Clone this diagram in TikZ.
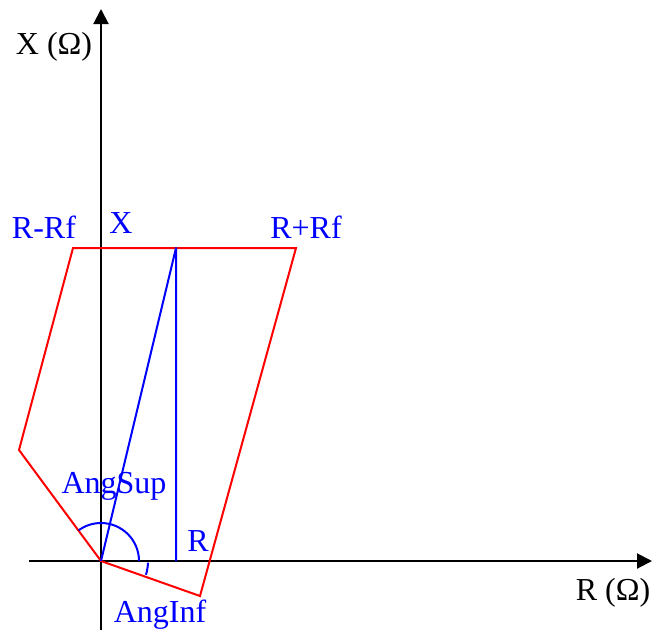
\documentclass[tikz,border=0pt]{standalone}
\usepackage{fontspec}
\setmainfont{Liberation Serif}
\usetikzlibrary{arrows.meta}
\begin{document}
\begin{tikzpicture}[x=1pt,y=-1pt,
  axis/.style={line width=2pt,black},
  axisarrow/.style={axis,-{Triangle[length=15pt,width=15pt]}},
  redline/.style={line width=2pt,red,line join=miter},
  blueline/.style={line width=2pt,blue,line join=round},
  lbl/.style={inner sep=0pt,anchor=base,font=\fontsize{32}{36}\selectfont},
  bluelbl/.style={lbl,text=blue}]
\useasboundingbox (0,0) rectangle (655,630);
\coordinate (O) at (101,561);
\coordinate (xs) at (29,561);
\coordinate (xe) at (652,561);
\coordinate (ys) at (101,630);
\coordinate (ye) at (101,9);
\coordinate (TL) at (73,248);
\coordinate (TR) at (296,248);
\coordinate (BR) at (200,596);
\coordinate (LL) at (19,450);
\coordinate (XT) at (176,248);
\coordinate (RB) at (176,561);
% axes
\draw[axisarrow] (xs) -- (xe);
\draw[axisarrow] (ys) -- (ye);
% red polygon
\draw[redline] (TL) -- (TR) -- (BR) -- (O) -- (LL) -- cycle;
% blue lines
\draw[blueline] (O) -- (XT) -- (RB);
\draw[blueline] ([shift={(0:38)}]O) arc[start angle=0,end angle=-126,radius=38];
\draw[blueline] ([shift={(2:47)}]O) arc[start angle=2,end angle=17,radius=47];
% labels
\node[lbl] (xlab) at (54,54) {X (Ω)};
\node[lbl] (rlab) at (613,600) {R (Ω)};
\node[bluelbl] (rmrf) at (44,238) {R-Rf};
\node[bluelbl] (xl) at (121,233) {X};
\node[bluelbl] (rprf) at (306,238) {R+Rf};
\node[bluelbl] (angsup) at (114,493) {AngSup};
\node[bluelbl] (rl) at (198,551) {R};
\node[bluelbl] (anginf) at (160,622) {AngInf};
\end{tikzpicture}
\end{document}
